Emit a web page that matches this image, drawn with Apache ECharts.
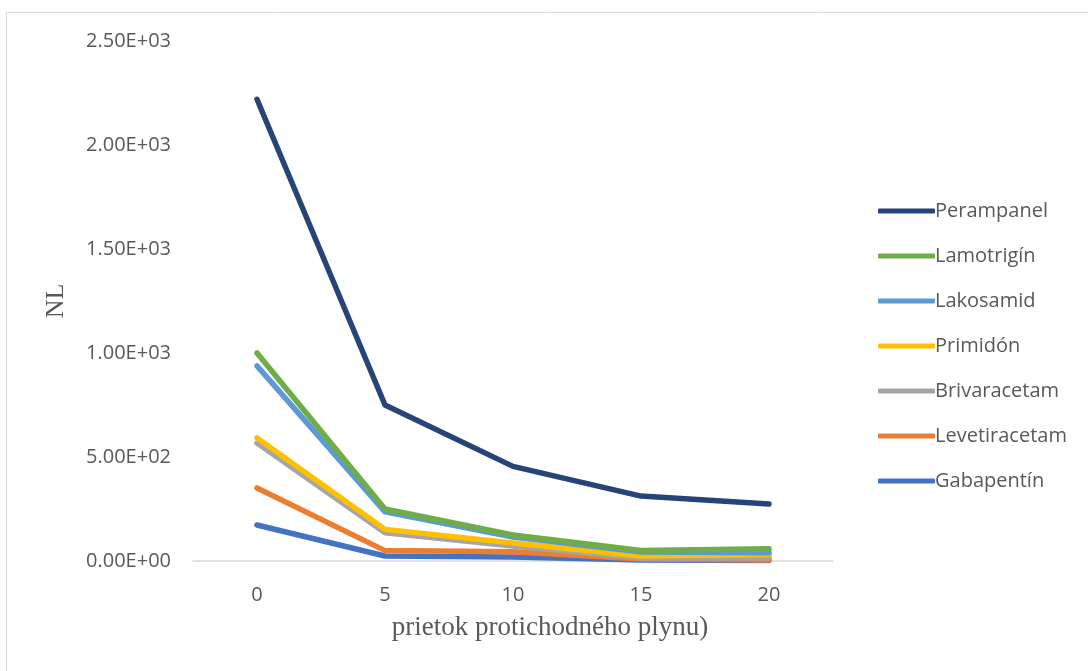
<!DOCTYPE html>
<html>
<head>
<meta charset="utf-8">
<script src="https://cdn.jsdelivr.net/npm/echarts@6/dist/echarts.min.js"></script>
<style>
  html, body { margin: 0; padding: 0; background: #fff; }
  #chart { width: 1088px; height: 671px; }
</style>
</head>
<body>
<div id="chart"></div>
<script>
// Flow rate of the counter-current gas
const flowRates = ['0', '5', '10', '15', '20'];

const perampanel    = [2220, 750, 455, 312, 274];
const lamotrigin    = [1000, 250, 125, 50, 59];
const lakosamid     = [938, 236, 115, 43, 40];
const primidon      = [592, 152, 87, 24, 31];
const brivaracetam  = [567, 136, 72, 14, 14];
const levetiracetam = [351, 50, 45, 10, 5];
const gabapentin    = [173, 24, 19, 5, 3];

const seriesDefs = [
  { name: 'Perampanel',    data: perampanel,    color: '#264478' },
  { name: 'Lamotrigín',    data: lamotrigin,    color: '#70ad47' },
  { name: 'Lakosamid',     data: lakosamid,     color: '#5b9bd5' },
  { name: 'Primidón',      data: primidon,      color: '#ffc000' },
  { name: 'Brivaracetam',  data: brivaracetam,  color: '#a5a5a5' },
  { name: 'Levetiracetam', data: levetiracetam, color: '#ed7d31' },
  { name: 'Gabapentín',    data: gabapentin,    color: '#4472c4' }
];

// Draw order: lower curves first so upper ones sit on top
const drawOrder = ['Gabapentín', 'Levetiracetam', 'Brivaracetam', 'Primidón', 'Lakosamid', 'Lamotrigín', 'Perampanel'];

function sci(v) {
  if (v === 0) return '0.00E+00';
  const e = Math.floor(Math.log10(Math.abs(v)));
  const m = v / Math.pow(10, e);
  return m.toFixed(2) + 'E' + (e >= 0 ? '+' : '-') + String(Math.abs(e)).padStart(2, '0');
}

const sansFont = 'Open Sans, Noto Sans, sans-serif';
const serifFont = 'Liberation Serif, Times New Roman, serif';

const chart = echarts.init(document.getElementById('chart'), null, { renderer: 'canvas' });

chart.setOption({
  backgroundColor: '#ffffff',
  animation: false,
  graphic: [
    {
      type: 'rect',
      shape: { x: 6.5, y: 12.5, width: 1200, height: 800 },
      style: { fill: 'none', stroke: '#d9d9d9', lineWidth: 1 },
      silent: true
    },
    {
      // horizontal axis title, centred under the chart area
      type: 'text',
      x: 550,
      y: 628,
      style: {
        text: 'prietok protichodného plynu)',
        fontFamily: serifFont,
        fontSize: 27,
        fill: '#595959',
        align: 'center',
        verticalAlign: 'middle'
      },
      silent: true
    }
  ],
  grid: { left: 193, right: 255, top: 41, bottom: 110 },
  legend: {
    orient: 'vertical',
    left: 873,
    top: 196,
    itemWidth: 57,
    itemHeight: 5,
    itemGap: 25,
    icon: 'roundRect',
    textStyle: { fontFamily: sansFont, fontSize: 20, color: '#595959', padding: [0, 0, 0, -5] },
    data: seriesDefs.map(s => ({ name: s.name, itemStyle: { color: s.color } }))
  },
  xAxis: {
    type: 'category',
    data: flowRates,
    boundaryGap: true,
    axisLine: { show: true, lineStyle: { color: '#d9d9d9', width: 1.5 } },
    axisTick: { show: false },
    axisLabel: { fontFamily: sansFont, fontSize: 20, color: '#595959', margin: 24 }
  },
  yAxis: {
    type: 'value',
    min: 0,
    max: 2500,
    interval: 500,
    name: 'NL',
    nameLocation: 'middle',
    nameGap: 124,
    nameRotate: 90,
    nameTextStyle: { fontFamily: serifFont, fontSize: 26, color: '#595959' },
    axisLine: { show: false },
    axisTick: { show: false },
    splitLine: { show: false },
    axisLabel: { formatter: sci, fontFamily: sansFont, fontSize: 20, color: '#595959', margin: 22 }
  },
  series: drawOrder.map(n => {
    const s = seriesDefs.find(d => d.name === n);
    return {
      name: s.name,
      type: 'line',
      data: s.data,
      symbol: 'none',
      lineStyle: { color: s.color, width: 5.5, cap: 'round', join: 'round' },
      itemStyle: { color: s.color }
    };
  })
});
</script>
</body>
</html>
